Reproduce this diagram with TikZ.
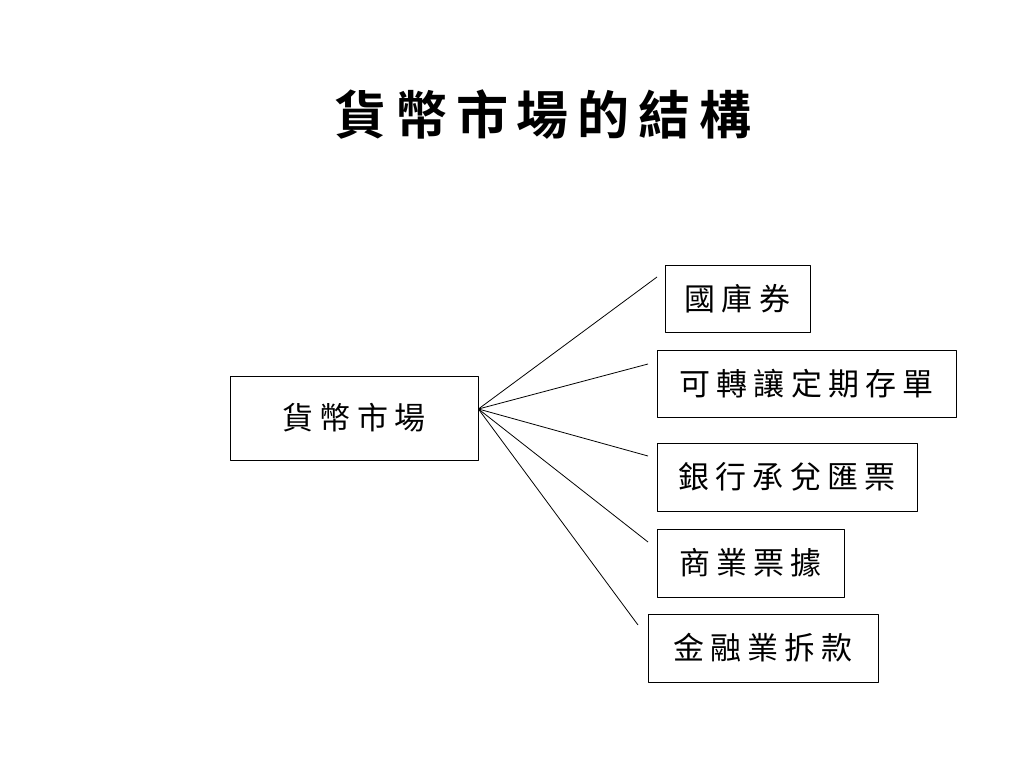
\documentclass[tikz,border=0pt]{standalone}
\usepackage{fontspec}
\newfontfamily\cjk[LetterSpace=20]{Noto Sans CJK TC}
\newfontfamily\cjktitle[LetterSpace=17]{Noto Sans CJK TC Bold}
\begin{document}
\begin{tikzpicture}[x=1pt,y=-1pt,line join=round,font=\cjk\fontsize{31}{36}\selectfont,
	box/.style={draw,line width=0.8pt,inner sep=0pt,align=center}]
	\useasboundingbox (0,0) rectangle (1024,768);
	\node[font=\cjktitle\fontsize{52}{62}\selectfont] (title) at (543,115) {貨幣市場的結構};
	\node[box,minimum width=248,minimum height=84] (market) at (354,418) {貨幣市場};
	\node[box,minimum width=145,minimum height=67] (tb) at (737.5,298.5) {國庫券};
	\node[box,minimum width=299,minimum height=67] (cd) at (806.5,383.5) {可轉讓定期存單};
	\node[box,minimum width=260,minimum height=68] (ba) at (787,477) {銀行承兌匯票};
	\node[box,minimum width=187,minimum height=68] (cp) at (750.5,563) {商業票據};
	\node[box,minimum width=230,minimum height=68] (ib) at (763,648) {金融業拆款};
	% free ends of the branches
	\coordinate (root) at ([yshift=9pt]market.east);
	\coordinate (tbend) at (657,277);
	\coordinate (cdend) at (648,364);
	\coordinate (baend) at (648,456);
	\coordinate (cpend) at (648,542);
	\coordinate (ibend) at (638,625);
	\foreach \e in {tbend,cdend,baend,cpend,ibend}
	\draw[line width=0.8pt] (root)--(\e);
\end{tikzpicture}
\end{document}
